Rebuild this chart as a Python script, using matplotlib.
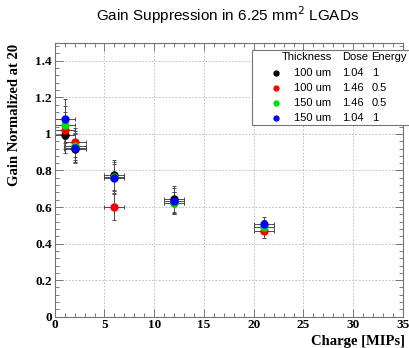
import numpy as np
import matplotlib
matplotlib.use("Agg")
import matplotlib.pyplot as plt
from matplotlib.ticker import MultipleLocator
from matplotlib.patches import Rectangle
from matplotlib.lines import Line2D

# charge points (MIPs) and normalized gain for each sensor
charge = [1, 2, 6, 12, 21]
charge_err = [1.0, 1.1, 1.0, 1.0, 1.0]

gain_100_104 = [0.995, 0.92, 0.775, 0.645, None]
gain_100_146 = [1.02, 0.955, 0.60, 0.62, 0.47]
gain_150_146 = [1.05, 0.935, 0.765, 0.62, 0.49]
gain_150_104 = [1.08, 0.925, 0.757, 0.635, 0.508]

err_100_104 = [0.10, 0.08, 0.08, 0.07, None]
err_100_146 = [0.10, 0.08, 0.07, 0.06, 0.04]
err_150_146 = [0.10, 0.08, 0.08, 0.06, 0.04]
err_150_104 = [0.11, 0.08, 0.08, 0.07, 0.04]

thickness = ["100 um", "100 um", "150 um", "150 um"]
dose = ["1.04", "1.46", "1.46", "1.04"]
energy = ["1", "0.5", "0.5", "1"]
colors = ["black", "red", "#00e000", "blue"]

series = [(gain_100_104, err_100_104), (gain_100_146, err_100_146),
          (gain_150_146, err_150_146), (gain_150_104, err_150_104)]

serif = {"family": "Liberation Serif", "weight": "bold"}
sans = "Liberation Sans"

W, H = 409, 348
fig = plt.figure(figsize=(W / 100, H / 100), dpi=100)
ax = fig.add_axes([54.7 / W, 1 - 316.7 / H, (403 - 54.7) / W, (316.7 - 42.5) / H])

for (g, e), c in zip(series, colors):
    xs = [x for x, v in zip(charge, g) if v is not None]
    xe = [x for x, v in zip(charge_err, g) if v is not None]
    ys = [v for v in g if v is not None]
    ye = [v for v in e if v is not None]
    ax.errorbar(xs, ys, xerr=xe, yerr=ye, fmt="none", ecolor="0.3",
                elinewidth=0.7, capsize=1.2, capthick=0.7, zorder=2)
for (g, e), c in zip(series, colors):
    xs = [x for x, v in zip(charge, g) if v is not None]
    ys = [v for v in g if v is not None]
    ax.plot(xs, ys, "o", color=c, ms=5, mec=c, zorder=3)

# legend box drawn by hand to mimic ROOT
ax.add_artist(Rectangle((252.3 / W, 1 - 125 / H), 160 / W, 75 / H,
                        transform=fig.transFigure, facecolor="white",
                        edgecolor="0.45", lw=0.8, zorder=5, clip_on=False))
fs = 8
fig.text(331.5 / W, 1 - 57.5 / H, "Thickness", ha="right", va="center",
         family=sans, fontsize=fs, zorder=6)
fig.text(342 / W, 1 - 57.5 / H, "Dose", ha="left", va="center",
         family=sans, fontsize=fs, zorder=6)
fig.text(371 / W, 1 - 57.5 / H, "Energy", ha="left", va="center",
         family=sans, fontsize=fs, zorder=6)
rows = [73.3, 88, 103, 118.5]
for i, y in enumerate(rows):
    fy = 1 - y / H
    fig.add_artist(Line2D([276 / W], [fy], marker="o", ms=3.5, color=colors[i],
                          transform=fig.transFigure, zorder=6))
    fig.text(331.5 / W, fy, thickness[i], ha="right", va="center",
             family=sans, fontsize=fs, zorder=6)
    fig.text(342.3 / W, fy, dose[i], ha="left", va="center",
             family=sans, fontsize=fs, zorder=6)
    fig.text(371.7 / W, fy, energy[i], ha="left", va="center",
             family=sans, fontsize=fs, zorder=6)

ax.set_xlim(0, 35)
ax.set_ylim(0, 1.5)
ax.xaxis.set_major_locator(MultipleLocator(5))
ax.xaxis.set_minor_locator(MultipleLocator(1))
ax.yaxis.set_major_locator(MultipleLocator(0.2))
ax.yaxis.set_minor_locator(MultipleLocator(0.04))
ax.tick_params(which="both", direction="in", top=True, right=True,
               color="0.4", width=0.6)
ax.tick_params(which="major", length=6, pad=2)
ax.tick_params(which="minor", length=3)
ax.set_xticks([0, 5, 10, 15, 20, 25, 30, 35])
ax.set_xticklabels(["0", "5", "10", "15", "20", "25", "30", "35"], fontdict=serif, fontsize=9.5)
ax.set_yticks([0, 0.2, 0.4, 0.6, 0.8, 1.0, 1.2, 1.4])
ax.set_yticklabels(["0", "0.2", "0.4", "0.6", "0.8", "1", "1.2", "1.4"], fontdict=serif, fontsize=9.5)
ax.grid(True, which="major", color="0.72", ls=(0, (2, 2)), lw=0.6)
for s in ax.spines.values():
    s.set_color("0.45")
    s.set_linewidth(0.8)

fig.text(405 / W, 1 - 341 / H, "Charge [MIPs]", ha="right", va="center",
         fontsize=10.5, **serif)
fig.text(15 / W, 1 - 44 / H, "Gain Normalized at 20", ha="center", va="top",
         rotation=90, fontsize=10.5, **serif)
fig.text(228 / W, 1 - 15 / H, "Gain Suppression in 6.25 mm$^2$ LGADs",
         ha="center", va="center", family=sans, fontsize=11)

fig.savefig("out.png", dpi=100)
